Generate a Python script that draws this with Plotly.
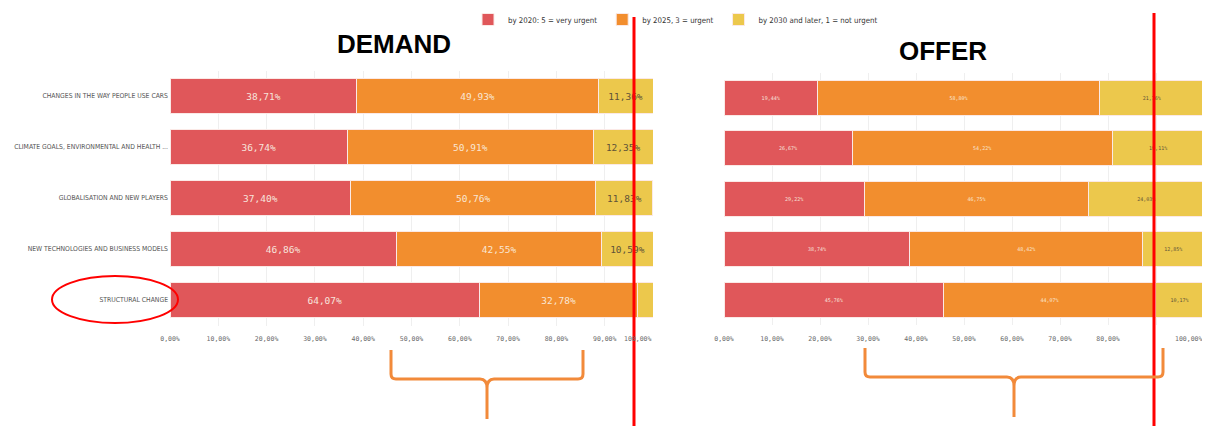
import plotly.graph_objects as go

# The page body adds an 8px margin, so the figure is drawn 8px in from the window edge.
OFF = 8
W, H = 1210 - OFF, 426 - OFF

categories = [
    "CHANGES IN THE WAY PEOPLE USE CARS",
    "CLIMATE GOALS, ENVIRONMENTAL AND HEALTH ...",
    "GLOBALISATION AND NEW PLAYERS",
    "NEW TECHNOLOGIES AND BUSINESS MODELS",
    "STRUCTURAL CHANGE",
]
series_names = [
    "by 2020: 5 = very urgent",
    "by 2025, 3 = urgent",
    "by 2030 and later, 1 = not urgent",
]
demand_2020 = [38.71, 36.74, 37.40, 46.86, 64.07]
demand_2025 = [49.93, 50.91, 50.76, 42.55, 32.78]
demand_2030 = [11.36, 12.35, 11.83, 10.59, 3.15]
offer_2020 = [19.44, 26.67, 29.22, 38.74, 45.76]
offer_2025 = [58.80, 54.22, 46.75, 48.42, 44.07]
offer_2030 = [21.76, 19.11, 24.03, 12.85, 10.17]
tick_vals = [0, 10, 20, 30, 40, 50, 60, 70, 80, 90, 100]
demand_tick_text = ["0,00%", "10,00%", "20,00%", "30,00%", "40,00%", "50,00%",
                    "60,00%", "70,00%", "80,00%", "90,00%", ""]
offer_tick_text = ["0,00%", "10,00%", "20,00%", "30,00%", "40,00%", "50,00%",
                   "60,00%", "70,00%", "80,00%", "", ""]
end_tick_label = "100,00%"
panel_titles = ["DEMAND", "OFFER"]

colors = ["#E0575A", "#F28E2E", "#ECC84C"]
text_colors = ["#F7E4DC", "#F9E6D4", "#5E5238"]


def fmt(v):
    return "" if v < 5 else f"{v:.2f}".replace(".", ",") + "%"


def px(x):
    return (x - OFF) / W


def py(y):
    return 1 - (y - OFF) / H


fig = go.Figure()

demand = [demand_2020, demand_2025, demand_2030]
offer = [offer_2020, offer_2025, offer_2030]
mono = "DejaVu Sans Mono, Liberation Mono, monospace"
narrow = "Liberation Sans Narrow, DejaVu Sans Condensed, Arial Narrow, sans-serif"

for i, name in enumerate(series_names):
    fig.add_trace(go.Bar(
        y=categories, x=demand[i], orientation="h", name=name,
        marker=dict(color=colors[i], line=dict(color="#FBE9E6", width=1)),
        text=[fmt(v) for v in demand[i]], textposition="inside",
        insidetextanchor="middle", constraintext="none",
        textfont=dict(family=mono, size=9.5, color=text_colors[i]),
        width=0.7, xaxis="x", yaxis="y", legendgroup=name, showlegend=True,
    ))
for i, name in enumerate(series_names):
    fig.add_trace(go.Bar(
        y=categories, x=offer[i], orientation="h", name=name,
        marker=dict(color=colors[i], line=dict(color="#FBE9E6", width=1)),
        text=[fmt(v) for v in offer[i]], textposition="inside",
        insidetextanchor="middle", constraintext="none",
        textfont=dict(family=mono, size=5, color=text_colors[i]),
        width=0.7, xaxis="x2", yaxis="y2", legendgroup=name, showlegend=False,
    ))

tick_font = dict(family=mono, size=6.5, color="#6A6A6A")
axis_common = dict(
    range=[0, 100], tickvals=tick_vals,
    showgrid=True, gridcolor="#EFEFEF", gridwidth=1, zeroline=False,
    showline=False, ticks="", automargin=False, ticklabelstandoff=8,
    tickfont=tick_font,
)

fig.update_layout(
    width=W, height=H,
    margin=dict(l=0, r=0, t=0, b=0, autoexpand=False),
    paper_bgcolor="white", plot_bgcolor="white",
    barmode="stack",
    xaxis=dict(domain=[px(170), px(653)], anchor="y", ticktext=demand_tick_text, **axis_common),
    yaxis=dict(domain=[py(325.5), py(70.5)], anchor="x", automargin=False,
               categoryorder="array", categoryarray=categories[::-1],
               showgrid=False, zeroline=False, ticks="", ticklabelstandoff=1,
               tickfont=dict(family=narrow, size=6.8, color="#555555")),
    xaxis2=dict(domain=[px(724), px(1204)], anchor="y2", ticktext=offer_tick_text, **axis_common),
    yaxis2=dict(domain=[py(325), py(72.5)], anchor="x2", automargin=False,
                categoryorder="array", categoryarray=categories[::-1],
                showgrid=False, zeroline=False, showticklabels=False, ticks=""),
    legend=dict(orientation="h", x=px(468), y=py(5), xanchor="left", yanchor="top",
                font=dict(family=narrow, size=7.8, color="#333333"),
                bgcolor="rgba(0,0,0,0)", itemwidth=30, traceorder="normal"),
    showlegend=True,
)

# End-of-axis "100,00%" labels, kept inside the panel as in the original
for xr in ("x", "x2"):
    fig.add_annotation(text=end_tick_label, x=100, xref=xr, y=py(338.5), yref="paper",
                       xanchor="right", yanchor="middle", showarrow=False, font=tick_font)

# Panel titles
fig.add_annotation(text=f"<b>{panel_titles[0]}</b>", x=px(394), y=py(44), xref="paper", yref="paper",
                   xanchor="center", yanchor="middle", showarrow=False,
                   font=dict(family="Liberation Sans, Arial, sans-serif", size=26, color="black"))
fig.add_annotation(text=f"<b>{panel_titles[1]}</b>", x=px(943), y=py(51), xref="paper", yref="paper",
                   xanchor="center", yanchor="middle", showarrow=False,
                   font=dict(family="Liberation Sans, Arial, sans-serif", size=26, color="black"))

# Red vertical lines
fig.add_shape(type="line", xref="paper", yref="paper", x0=px(634), x1=px(634), y0=py(17), y1=py(430),
              line=dict(color="#FF0000", width=3), layer="above")
fig.add_shape(type="line", xref="paper", yref="paper", x0=px(1154), x1=px(1154), y0=py(13), y1=py(430),
              line=dict(color="#FF0000", width=3), layer="above")

# Red ellipse
fig.add_shape(type="circle", xref="paper", yref="paper", x0=px(52), x1=px(178), y0=py(323), y1=py(276),
              line=dict(color="#FF0000", width=2), layer="above")


# Orange braces
def brace(xl, xr, xc, ytop, yh, ybot):
    r = 5
    p = (f"M {px(xl)},{py(ytop)} L {px(xl)},{py(yh - r)} Q {px(xl)},{py(yh)} {px(xl + r)},{py(yh)} "
         f"L {px(xc - 7)},{py(yh)} Q {px(xc)},{py(yh)} {px(xc)},{py(yh + 9)} L {px(xc)},{py(ybot)} "
         f"M {px(xc)},{py(yh + 9)} Q {px(xc)},{py(yh)} {px(xc + 7)},{py(yh)} "
         f"L {px(xr - r)},{py(yh)} Q {px(xr)},{py(yh)} {px(xr)},{py(yh - r)} L {px(xr)},{py(ytop)}")
    return p


fig.add_shape(type="path", xref="paper", yref="paper", path=brace(391, 583, 487, 350, 379, 419),
              line=dict(color="#F28A3A", width=3), layer="above")
fig.add_shape(type="path", xref="paper", yref="paper", path=brace(865, 1163, 1014, 348, 377, 417),
              line=dict(color="#F28A3A", width=3), layer="above")

fig.write_html("out.html")
